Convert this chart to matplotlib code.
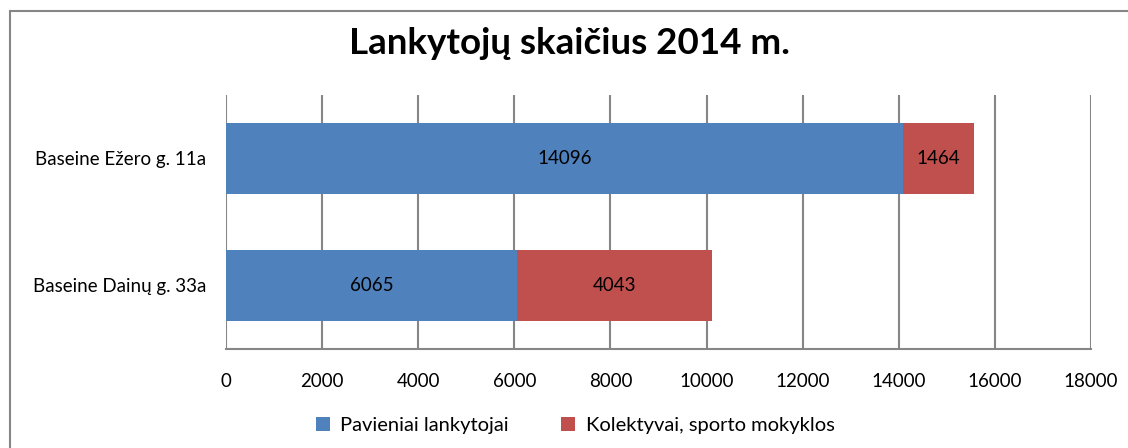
import matplotlib.pyplot as plt
import numpy as np
from matplotlib.patches import Rectangle

categories = ["Baseine Dainų g. 33a", "Baseine Ežero g. 11a"]
series_names = ["Pavieniai lankytojai", "Kolektyvai, sporto mokyklos"]
pavieniai = [6065, 14096]
kolektyvai = [4043, 1464]
colors = ["#4F81BD", "#C0504D"]

plt.rcParams['font.family'] = ['Lato', 'DejaVu Sans']

fig = plt.figure(figsize=(11.28, 4.48), dpi=100)
ax = fig.add_axes([0.2004, 0.221, 0.7668, 0.567])

y = np.arange(len(categories))
b1 = ax.barh(y, pavieniai, height=0.56, color=colors[0], label=series_names[0], zorder=3)
b2 = ax.barh(y, kolektyvai, left=pavieniai, height=0.56, color=colors[1],
             label=series_names[1], zorder=3)
ax.bar_label(b1, label_type="center", fontsize=13.5, color="black")
ax.bar_label(b2, label_type="center", fontsize=13.5, color="black")

ax.set_xlim(0, 18000)
ax.set_ylim(-0.5, 1.5)
ax.set_xticks(np.arange(0, 18001, 2000))
ax.set_yticks(y, labels=categories)
ax.tick_params(axis="both", length=0, labelsize=13.5, pad=14)
ax.tick_params(axis="x", pad=17)
ax.grid(axis="x", color="#868686", linewidth=1.5, zorder=0)
for s in ["top", "right", "left"]:
    ax.spines[s].set_visible(False)
ax.spines["bottom"].set_color("#868686")
ax.spines["bottom"].set_linewidth(1.5)

fig.suptitle("Lankytojų skaičius 2014 m.", fontsize=26.5, fontweight="bold", x=0.505, y=0.94)
fig.legend(loc="lower center", bbox_to_anchor=(0.51, -0.01), ncol=2, frameon=False,
           fontsize=14.5, handlelength=0.7, handleheight=0.7, columnspacing=2.6,
           handletextpad=0.5)

fig.patches.append(Rectangle((10 / 1128, -0.05), 1.1, 0.975 + 0.05, transform=fig.transFigure,
                             fill=False, edgecolor="#868686", linewidth=1.5))

fig.savefig("out.png", dpi=100)
